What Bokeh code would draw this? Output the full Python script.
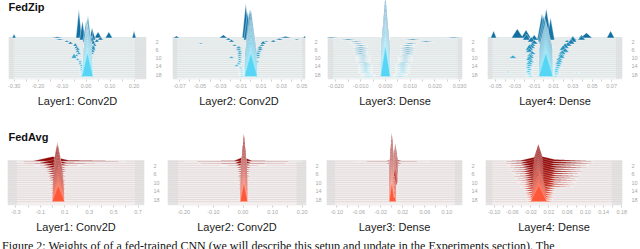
import numpy as np
from bokeh.plotting import figure
from bokeh.models import Range1d, LinearAxis, FixedTicker, Div, PrintfTickFormatter
from bokeh.layouts import column, row
from bokeh.embed import file_html
from bokeh.resources import INLINE
from bokeh.core.properties import value

# ---------------- data: per step k (0..19) list of peaks (center, height in step units, half width)
step_ticks = [2, 6, 10, 14, 18]

zip_l1 = [
    [(-0.30, 2, 0.008), (-0.12, 0.6, 0.025), (-0.03, 14, 0.012), (0.025, 5, 0.01), (0.05, 3, 0.015), (0.095, 3, 0.015), (0.20, 3.5, 0.008)],
    [(-0.11, 0.6, 0.02), (-0.015, 9.5, 0.012), (0.03, 4, 0.01), (0.06, 1.5, 0.012)],
    [(-0.08, 0.8, 0.012), (0.0, 10, 0.014), (0.025, 3, 0.01), (0.045, 1.5, 0.01)],
    [(-0.065, 1.2, 0.012), (0.005, 13, 0.015), (0.03, 2, 0.01)],
    [(-0.045, 1.5, 0.01), (0.008, 15, 0.016), (0.035, 1.5, 0.01)],
    [(-0.04, 1.2, 0.01), (0.008, 15, 0.016), (0.03, 2, 0.01)],
    [(-0.035, 1.5, 0.01), (0.006, 13, 0.017), (0.03, 2.5, 0.01)],
    [(-0.035, 1.2, 0.01), (0.006, 13, 0.018), (0.028, 1.5, 0.01)],
    [(-0.03, 1.2, 0.01), (0.006, 12.5, 0.018), (0.025, 1, 0.01)],
    [(-0.04, 1, 0.01), (0.006, 12.5, 0.019)],
    [(-0.05, 2.5, 0.012), (0.006, 12.5, 0.019), (0.022, 1, 0.008)],
    [(-0.035, 1, 0.01), (0.006, 12, 0.02)],
    [(-0.025, 1, 0.008), (0.006, 12, 0.02), (0.02, 0.8, 0.008)],
    [(-0.025, 1, 0.008), (0.006, 12, 0.021)],
    [(-0.02, 1, 0.008), (0.006, 12, 0.021)],
    [(-0.02, 0.8, 0.008), (0.006, 12, 0.022)],
    [(-0.02, 0.8, 0.008), (0.006, 12, 0.022)],
    [(-0.018, 0.6, 0.008), (0.006, 12, 0.023)],
    [(-0.018, 0.6, 0.008), (0.006, 12, 0.023)],
    [(-0.018, 0.6, 0.008), (0.006, 12, 0.024)],
]

zip_l2 = [
    [(-0.073, 1, 0.003), (-0.027, 1.5, 0.004), (-0.005, 17, 0.0035), (0.034, 0.8, 0.006), (0.053, 1, 0.002)],
    [(-0.022, 1, 0.003), (-0.003, 14, 0.004), (0.028, 0.8, 0.004), (0.045, 0.5, 0.003)],
    [(-0.019, 1.2, 0.003), (-0.001, 16, 0.004), (0.015, 0.6, 0.003), (0.022, 1, 0.003)],
    [(-0.049, 0.5, 0.003), (0.0, 17, 0.0045), (0.012, 1.5, 0.003)],
    [(-0.016, 0.8, 0.003), (0.0, 15, 0.005), (0.011, 1, 0.003)],
    [(-0.012, 1, 0.003), (0.0, 14, 0.005), (0.009, 1, 0.003)],
    [(-0.012, 1, 0.003), (0.0, 14, 0.0055), (0.009, 1.2, 0.003)],
    [(-0.011, 0.8, 0.003), (0.0, 13.5, 0.0055), (0.008, 0.8, 0.003)],
    [(-0.011, 1, 0.003), (0.0, 13.5, 0.006), (0.007, 1, 0.003)],
    [(-0.011, 0.8, 0.003), (0.0, 13, 0.006), (0.007, 1, 0.003)],
    [(-0.019, 1, 0.003), (-0.011, 0.8, 0.003), (0.0, 13, 0.006), (0.007, 0.8, 0.003)],
    [(-0.011, 0.8, 0.003), (0.0, 13, 0.006)],
    [(-0.011, 0.8, 0.003), (0.0, 12.5, 0.0062), (0.006, 0.8, 0.003)],
    [(-0.012, 0.8, 0.003), (0.0, 12.5, 0.0062), (0.005, 0.8, 0.003)],
    [(-0.014, 1, 0.003), (0.0, 12.5, 0.0064)],
    [(-0.01, 0.6, 0.003), (0.0, 12, 0.0064)],
    [(-0.009, 0.5, 0.003), (0.0, 12, 0.0065)],
    [(-0.009, 0.5, 0.003), (0.0, 12, 0.0065)],
    [(-0.009, 0.5, 0.003), (0.0, 12, 0.0065)],
    [(-0.009, 0.5, 0.003), (0.0, 12, 0.0065)],
]

zip_l3 = [
    [(-0.022, 0.4, 0.003), (0.0, 21, 0.0014), (0.0275, 0.4, 0.003)],
    [(-0.015, 0.5, 0.003), (0.0, 20, 0.0015), (0.011, 0.5, 0.003)],
    [(-0.012, 0.4, 0.003), (0.0, 19, 0.0016), (0.0165, 0.5, 0.003)],
    [(-0.011, 0.4, 0.003), (0.0, 18, 0.0017), (0.010, 0.5, 0.003)],
    [(-0.010, 0.5, 0.003), (0.0, 17, 0.0018), (0.009, 0.5, 0.003)],
    [(-0.010, 0.5, 0.003), (0.0, 17, 0.0018), (0.009, 0.5, 0.003)],
    [(-0.010, 0.5, 0.003), (0.0, 16.5, 0.0018), (0.009, 0.5, 0.003)],
    [(-0.010, 0.5, 0.003), (0.0, 16, 0.0019), (0.009, 0.5, 0.003)],
    [(-0.010, 0.5, 0.003), (0.0, 16, 0.0019), (0.009, 0.5, 0.003)],
    [(-0.009, 0.4, 0.003), (0.0, 16, 0.0019), (0.008, 0.4, 0.003)],
    [(-0.009, 0.4, 0.003), (0.0, 16, 0.0019), (0.008, 0.4, 0.003)],
    [(-0.009, 0.4, 0.003), (0.0, 16, 0.0019), (0.008, 0.4, 0.003)],
    [(-0.009, 0.4, 0.003), (0.0, 16, 0.0019), (0.008, 0.4, 0.003)],
    [(-0.008, 0.5, 0.003), (0.0, 15.5, 0.002), (0.007, 0.5, 0.003)],
    [(-0.008, 0.5, 0.003), (0.0, 15.5, 0.002), (0.007, 0.5, 0.003)],
    [(-0.008, 0.5, 0.003), (0.0, 15.5, 0.002), (0.007, 0.5, 0.003)],
    [(-0.008, 0.5, 0.003), (0.0, 15.5, 0.002), (0.007, 0.5, 0.003)],
    [(-0.008, 0.5, 0.003), (0.0, 15.5, 0.002), (0.007, 0.5, 0.003)],
    [(-0.007, 0.4, 0.003), (0.0, 15.5, 0.002), (0.006, 0.4, 0.003)],
    [(-0.007, 0.4, 0.003), (0.0, 15.5, 0.002), (0.006, 0.4, 0.003)],
]

zip_l4 = [
    [(-0.052, 3.5, 0.003), (-0.0275, 4.5, 0.006), (-0.0185, 4, 0.005), (0.0025, 14.5, 0.005), (0.039, 1.5, 0.003), (0.044, 2.5, 0.006), (0.069, 3.5, 0.004)],
    [(-0.018, 3, 0.004), (-0.01, 2.5, 0.004), (-0.002, 13, 0.005), (0.007, 11, 0.004), (0.03, 1.5, 0.004), (0.039, 2, 0.004)],
    [(-0.013, 2.5, 0.004), (0.0, 13, 0.006), (0.024, 1, 0.003), (0.03, 3, 0.004)],
    [(-0.01, 2, 0.004), (0.001, 12.5, 0.006), (0.028, 2.5, 0.004)],
    [(-0.012, 1.5, 0.004), (0.002, 12, 0.0065), (0.025, 2, 0.004)],
    [(-0.013, 2, 0.004), (0.002, 12, 0.0065), (0.022, 2.5, 0.004)],
    [(-0.015, 3, 0.004), (0.002, 12, 0.007), (0.02, 2.5, 0.004)],
    [(-0.015, 2, 0.004), (0.002, 12, 0.007), (0.022, 2, 0.004)],
    [(-0.012, 1.5, 0.004), (0.002, 12, 0.007), (0.019, 2, 0.004)],
    [(-0.014, 1.5, 0.004), (0.002, 12, 0.007), (0.018, 1.5, 0.004)],
    [(-0.032, 1.5, 0.004), (-0.014, 2, 0.004), (0.002, 12, 0.0072), (0.018, 2, 0.004)],
    [(-0.015, 2, 0.004), (0.002, 12, 0.0072), (0.016, 1.5, 0.004)],
    [(-0.014, 1.5, 0.004), (0.002, 12, 0.0073), (0.016, 1.5, 0.004)],
    [(-0.015, 1.5, 0.004), (0.002, 12, 0.0073), (0.015, 1.5, 0.004)],
    [(-0.015, 1.2, 0.004), (0.002, 12, 0.0074), (0.015, 1.2, 0.004)],
    [(-0.016, 1, 0.004), (0.002, 12, 0.0074), (0.014, 1, 0.004)],
    [(-0.015, 1, 0.004), (0.002, 12, 0.0075), (0.013, 1, 0.004)],
    [(-0.037, 0.5, 0.003), (-0.016, 1, 0.004), (0.002, 12, 0.0075), (0.013, 1, 0.004), (0.034, 0.4, 0.003)],
    [(-0.015, 0.8, 0.004), (0.002, 12, 0.0075), (0.013, 0.8, 0.004)],
    [(-0.014, 0.6, 0.004), (0.002, 12, 0.0075), (0.012, 0.6, 0.004)],
]

avg_l1 = [
    [(0.04, 9, 0.03), (0.0, 2.2, 0.17), (0.15, 0.5, 0.45)],
    [(0.04, 9.5, 0.03), (0.01, 1.8, 0.13), (0.06, 0.4, 0.3)],
    [(0.04, 10, 0.032), (0.02, 1.5, 0.11), (0.05, 0.3, 0.2)],
    [(0.04, 10.5, 0.034), (0.02, 1.3, 0.09)],
    [(0.045, 10.5, 0.036), (0.03, 1.2, 0.085)],
    [(0.045, 10, 0.038), (0.03, 1.1, 0.08)],
    [(0.045, 9.5, 0.04), (0.03, 1.1, 0.075)],
    [(0.045, 9, 0.04), (0.035, 1.0, 0.072)],
    [(0.045, 8.6, 0.042), (0.035, 1.0, 0.07)],
    [(0.045, 8.3, 0.043), (0.04, 1.0, 0.068)],
    [(0.047, 8.2, 0.045), (0.045, 0.9, 0.065)],
    [(0.047, 8.2, 0.046), (0.045, 0.9, 0.065)],
    [(0.047, 8.1, 0.047), (0.045, 0.8, 0.064)],
    [(0.047, 8.1, 0.048), (0.045, 0.8, 0.064)],
    [(0.047, 8.1, 0.049), (0.045, 0.8, 0.063)],
    [(0.047, 8.0, 0.05), (0.045, 0.7, 0.062)],
    [(0.047, 8.0, 0.05), (0.045, 0.7, 0.062)],
    [(0.047, 8.0, 0.051), (0.045, 0.7, 0.061)],
    [(0.047, 8.0, 0.052), (0.045, 0.7, 0.06)],
    [(0.047, 8.0, 0.052), (0.045, 0.7, 0.06)],
]

avg_l2 = [
    [(0.003, 13, 0.008), (0.0, 2.0, 0.035), (0.0, 0.3, 0.2)],
    [(0.003, 13.5, 0.009), (0.0, 1.8, 0.03), (0.0, 0.25, 0.15)],
    [(0.003, 14, 0.01), (0.0, 1.3, 0.027), (0.0, 0.2, 0.08)],
    [(0.003, 13, 0.011), (0.002, 1.0, 0.024)],
    [(0.003, 12, 0.011), (0.002, 0.9, 0.022)],
    [(0.003, 11, 0.011), (0.002, 0.9, 0.021)],
    [(0.003, 10.5, 0.0115), (0.002, 0.8, 0.02)],
    [(0.003, 10, 0.0115), (0.002, 0.8, 0.02)],
    [(0.003, 9.5, 0.012), (0.002, 0.7, 0.019)],
    [(0.003, 9.4, 0.012), (0.002, 0.7, 0.019)],
    [(0.003, 9.3, 0.012), (0.002, 0.7, 0.018)],
    [(0.003, 9.2, 0.0125), (0.002, 0.6, 0.018)],
    [(0.003, 9.1, 0.0125), (0.002, 0.6, 0.018)],
    [(0.003, 9.0, 0.0125), (0.002, 0.6, 0.017)],
    [(0.003, 9.0, 0.013), (0.002, 0.6, 0.017)],
    [(0.003, 9.0, 0.013), (0.002, 0.5, 0.017)],
    [(0.003, 9.0, 0.013), (0.002, 0.5, 0.016)],
    [(0.003, 9.0, 0.013), (0.002, 0.5, 0.016)],
    [(0.003, 9.0, 0.013), (0.002, 0.5, 0.016)],
    [(0.003, 9.0, 0.013), (0.002, 0.5, 0.016)],
]

avg_l3 = [
    [(0.0, 13.5, 0.004), (0.0065, 8.4, 0.0045), (0.004, 1.0, 0.016), (0.0, 0.2, 0.07)],
    [(0.0, 14, 0.004), (0.0065, 8.4, 0.0045), (0.004, 0.9, 0.014)],
    [(0.0, 14.5, 0.0042), (0.0065, 8.4, 0.0045), (0.004, 0.8, 0.012)],
    [(0.0, 14, 0.0044), (0.0065, 8.4, 0.0045)],
    [(0.0, 13, 0.0045), (0.0065, 8.4, 0.0045)],
    [(0.0, 12, 0.0046), (0.0065, 8.3, 0.0045)],
    [(0.0, 11, 0.0047), (0.0065, 8.2, 0.0045)],
    [(0.0, 10.5, 0.0048), (0.006, 8.1, 0.0045)],
    [(0.0, 10, 0.0048), (0.006, 8.0, 0.0045)],
    [(0.0, 9.5, 0.0049), (0.006, 7.9, 0.0045)],
    [(0.0, 9.5, 0.005), (0.006, 7.8, 0.0045)],
    [(0.0, 9.3, 0.005), (0.0055, 7.6, 0.004)],
    [(0.0, 9.2, 0.005), (0.005, 5.0, 0.003)],
    [(0.0, 9.2, 0.005), (0.005, 4.5, 0.003)],
    [(0.0, 9.2, 0.005), (0.005, 4.0, 0.003)],
    [(0.0, 9.2, 0.005), (0.005, 4.0, 0.003)],
    [(0.0, 9.2, 0.005), (0.005, 3.5, 0.003)],
    [(0.0, 9.2, 0.005), (0.005, 3.5, 0.003)],
    [(0.0, 9.2, 0.005), (0.005, 3.0, 0.003)],
    [(0.0, 9.2, 0.005), (0.005, 3.0, 0.003)],
]

avg_l4 = [
    [(-0.003, 8, 0.012), (0.0, 2.5, 0.05), (0.02, 1.0, 0.1)],
    [(-0.003, 8, 0.012), (0.0, 2.5, 0.048), (0.02, 1.0, 0.095)],
    [(-0.003, 8, 0.013), (0.0, 2.5, 0.046), (0.018, 0.9, 0.09)],
    [(-0.003, 8, 0.013), (0.002, 2.4, 0.045), (0.018, 0.9, 0.085)],
    [(-0.003, 8, 0.014), (0.003, 2.3, 0.044), (0.015, 0.8, 0.08)],
    [(-0.003, 8, 0.014), (0.003, 2.3, 0.043), (0.015, 0.8, 0.078)],
    [(-0.003, 8, 0.014), (0.003, 2.2, 0.042), (0.015, 0.8, 0.075)],
    [(-0.003, 8, 0.014), (0.003, 2.2, 0.041), (0.015, 0.7, 0.072)],
    [(-0.003, 8, 0.014), (0.003, 2.1, 0.04), (0.015, 0.7, 0.07)],
    [(-0.003, 8, 0.014), (0.003, 2.1, 0.04), (0.015, 0.7, 0.067)],
    [(-0.003, 8, 0.014), (0.003, 2.0, 0.039), (0.015, 0.6, 0.065)],
    [(-0.003, 8, 0.014), (0.003, 2.0, 0.039), (0.015, 0.6, 0.062)],
    [(-0.003, 8, 0.014), (0.003, 2.0, 0.038), (0.015, 0.6, 0.06)],
    [(-0.002, 8, 0.016), (0.0, 1.8, 0.035)],
    [(-0.002, 8, 0.016), (0.0, 1.7, 0.034)],
    [(-0.002, 8, 0.017), (0.0, 1.6, 0.032)],
    [(-0.002, 8, 0.017), (0.0, 1.5, 0.031)],
    [(-0.002, 8, 0.018), (0.0, 1.4, 0.03)],
    [(-0.002, 8, 0.018), (0.0, 1.3, 0.029)],
    [(-0.002, 8, 0.018), (0.0, 1.2, 0.028)],
]

# axis ticks (labelled) and minor ticks
zip1_ticks = [-0.30, -0.20, -0.10, 0.0, 0.10, 0.20]
zip1_minor = [-0.25, -0.15, -0.05, 0.05, 0.15]
zip2_ticks = [-0.07, -0.05, -0.03, -0.01, 0.01, 0.03, 0.05]
zip2_minor = [-0.06, -0.04, -0.02, 0.0, 0.02, 0.04]
zip3_ticks = [-0.020, -0.010, 0.0, 0.010, 0.020, 0.030]
zip3_minor = [-0.015, -0.005, 0.005, 0.015, 0.025]
zip4_ticks = [-0.05, -0.03, -0.01, 0.01, 0.03, 0.05, 0.07]
zip4_minor = [-0.04, -0.02, 0.0, 0.02, 0.04, 0.06]
avg1_ticks = [-0.3, -0.1, 0.1, 0.3, 0.5, 0.7]
avg1_minor = [-0.2, 0.0, 0.2, 0.4, 0.6]
avg2_ticks = [-0.20, -0.10, 0.0, 0.10, 0.20]
avg2_minor = [-0.15, -0.05, 0.05, 0.15]
avg3_ticks = [-0.10, -0.06, -0.02, 0.02, 0.06, 0.10]
avg3_minor = [-0.08, -0.04, 0.0, 0.04, 0.08]
avg4_ticks = [-0.10, -0.06, -0.02, 0.02, 0.06, 0.10, 0.14, 0.18]
avg4_minor = [-0.08, -0.04, 0.0, 0.04, 0.08, 0.12, 0.16]

layer_labels = ["Layer1: Conv2D", "Layer2: Conv2D", "Layer3: Dense", "Layer4: Dense"]
row_titles = ["FedZip", "FedAvg"]
caption = ("Figure 2: Weights of of a fed-trained CNN (we will describe this setup and "
           "update in the Experiments section). The")

FONT = "Liberation Sans"


def mix(c0, c1, t):
    return "#%02x%02x%02x" % tuple(int(round(a + (b - a) * t)) for a, b in zip(c0, c1))


def ridge_polys(peaks, k, lo, hi):
    xs = np.linspace(lo, hi, 900)
    extra = []
    for c, h, w in peaks:
        extra += [c - w, c, c + w]
    xs = np.unique(np.clip(np.concatenate([xs, extra]), lo, hi))
    prof = np.zeros_like(xs)
    for c, h, w in peaks:
        prof = np.maximum(prof, h * np.clip(1 - np.abs(xs - c) / w, 0, None))
    pos = prof > 1e-9
    out = []
    i = 0
    n = len(xs)
    while i < n:
        if pos[i]:
            j = i
            while j + 1 < n and pos[j + 1]:
                j += 1
            a, b = max(i - 1, 0), min(j + 1, n - 1)
            px = list(xs[a:b + 1])
            py = list(k - prof[a:b + 1])
            px = [px[0]] + px + [px[-1]]
            py = [k] + py + [k]
            out.append((px, py))
            i = j + 1
        else:
            i += 1
    return out


# pixels per data unit along x for each panel (frame scale)
px_unit = [[250.4, 1066.7, 2584.0, 1003.0], [127.5, 308.75, 575.0, 476.1]]

rows_cfg = [
    dict(H=109, frame_h=80, yr=(20.4, -18.4), title_y=-15.0, title_dx=0.0,
         c0=(16, 112, 162), c1=(86, 214, 244), gamma=1.0, lw=0.5, la=0.85,
         outer="#e3e4e4", inner="#eef2f2", line="#d9dfdf",
         panels=[
             dict(data=zip_l1, lo=-0.3232, W=164, bl=8, fw=144, inner=(-0.302, 0.204), ticks=zip1_ticks, minor=zip1_minor, fmt="%.2f"),
             dict(data=zip_l2, lo=-0.0768, W=159, bl=8, fw=139, inner=(-0.0722, 0.0505), ticks=zip2_ticks, minor=zip2_minor, fmt="%.2f"),
             dict(data=zip_l3, lo=-0.0234, W=157, bl=4, fw=141, inner=(-0.0211, 0.0292), ticks=zip3_ticks, minor=zip3_minor, fmt="%.3f"),
             dict(data=zip_l4, lo=-0.0583, W=160, bl=7, fw=140, inner=(-0.0533, 0.0745), ticks=zip4_ticks, minor=zip4_minor, fmt="%.2f"),
         ]),
    dict(H=127, frame_h=96, yr=(20.8, -24.35), title_y=-11.64, title_dx=1.0 / 127.5,
         c0=(145, 8, 8), c1=(255, 88, 56), gamma=1.7, lw=0.45, la=0.7,
         outer="#e4e3e3", inner="#f4eeee", line="#e0d8d8",
         panels=[
             dict(data=avg_l1, lo=-0.369, W=162, bl=7, fw=143, inner=(-0.2926, 0.675), ticks=avg1_ticks, minor=avg1_minor, fmt="%.1f"),
             dict(data=avg_l2, lo=-0.2551, W=162, bl=5, fw=145, inner=(-0.22, 0.181), ticks=avg2_ticks, minor=avg2_minor, fmt="%.2f"),
             dict(data=avg_l3, lo=-0.1186, W=156, bl=2, fw=142, inner=(-0.103, 0.1146), ticks=avg3_ticks, minor=avg3_minor, fmt="%.2f"),
             dict(data=avg_l4, lo=-0.1189, W=160, bl=5, fw=143, inner=(-0.104, 0.158), ticks=avg4_ticks, minor=avg4_minor, fmt="%.2f"),
         ]),
]

rows_out = []
for r, cfg in enumerate(rows_cfg):
    figs = []
    for i, pc in enumerate(cfg["panels"]):
        W = pc["W"]
        fw = pc["fw"]
        lo = pc["lo"]
        hi = lo + fw / px_unit[r][i]
        p = figure(width=W, height=cfg["H"], output_backend="svg", toolbar_location=None,
                   x_range=Range1d(lo, hi), y_range=Range1d(*cfg["yr"]),
                   y_axis_location=None, min_border_left=pc["bl"], min_border_top=0,
                   min_border_right=W - fw - pc["bl"], min_border_bottom=cfg["H"] - cfg["frame_h"])
        p.outline_line_color = None
        p.xgrid.visible = False
        p.ygrid.visible = False
        p.background_fill_color = "white"
        p.border_fill_color = "white"

        # background band
        p.quad(left=[lo], right=[hi], top=[-0.5], bottom=[cfg["yr"][0]],
               fill_color=cfg["outer"], line_color=None)
        p.quad(left=[pc["inner"][0]], right=[pc["inner"][1]], top=[-0.5], bottom=[cfg["yr"][0]],
               fill_color=cfg["inner"], line_color=None)
        p.multi_line(xs=[[lo, hi] for k in range(20)], ys=[[k, k] for k in range(20)],
                     line_color=cfg["line"], line_width=0.8)

        xs_all, ys_all, cols = [], [], []
        for k, peaks in enumerate(pc["data"]):
            t = (k / 19.0) ** cfg["gamma"]
            col = mix(cfg["c0"], cfg["c1"], t)
            for px, py in ridge_polys(peaks, k, lo, hi):
                xs_all.append(px)
                ys_all.append(py)
                cols.append(col)
        p.patches(xs=xs_all, ys=ys_all, fill_color=cols, line_color="white",
                  line_width=cfg["lw"], line_alpha=cfg["la"])

        # axes
        ax = p.xaxis[0]
        ax.ticker = FixedTicker(ticks=pc["ticks"], minor_ticks=pc["minor"])
        ax.formatter = PrintfTickFormatter(format=pc["fmt"])
        ax.axis_line_color = None
        ax.major_tick_line_color = "#cfcfcf"
        ax.minor_tick_line_color = "#cfcfcf"
        ax.major_tick_out = 2
        ax.major_tick_in = 0
        ax.minor_tick_out = 2
        ax.minor_tick_in = 0
        ax.major_label_standoff = 2
        ax.major_label_text_font = FONT
        ax.major_label_text_font_size = "5.5px"
        ax.major_label_text_color = "#a8a8a8"
        ax.axis_label = layer_labels[i]
        ax.axis_label_text_font = FONT
        ax.axis_label_text_font_size = "11px"
        ax.axis_label_text_font_style = "normal"
        ax.axis_label_text_color = "#1a1a1a"
        ax.axis_label_standoff = 4

        ry = LinearAxis(ticker=FixedTicker(ticks=step_ticks))
        ry.axis_line_color = None
        ry.major_tick_line_color = None
        ry.minor_tick_line_color = None
        ry.major_label_standoff = 3
        ry.major_label_text_font = FONT
        ry.major_label_text_font_size = "5.5px"
        ry.major_label_text_color = "#a8a8a8"
        p.add_layout(ry, "right")

        if i == 0:
            p.text(x=[lo + cfg["title_dx"]], y=[cfg["title_y"]], text=[row_titles[r]],
                   text_font=value(FONT), text_font_style="bold", text_font_size="11px",
                   text_color="#111111", text_baseline="middle", text_align="left")
        figs.append(p)
    rows_out.append(row(*figs, spacing=0))

cap = Div(text=caption, width=640, height=13, margin=0,
          styles={"font-family": "Liberation Serif", "font-size": "12px", "color": "#111",
                  "white-space": "nowrap", "overflow": "hidden", "line-height": "20px",
                  "padding-left": "2px"})

layout = column(rows_out[0], rows_out[1], cap, spacing=0)
open("out.html", "w").write(file_html(layout, INLINE))
